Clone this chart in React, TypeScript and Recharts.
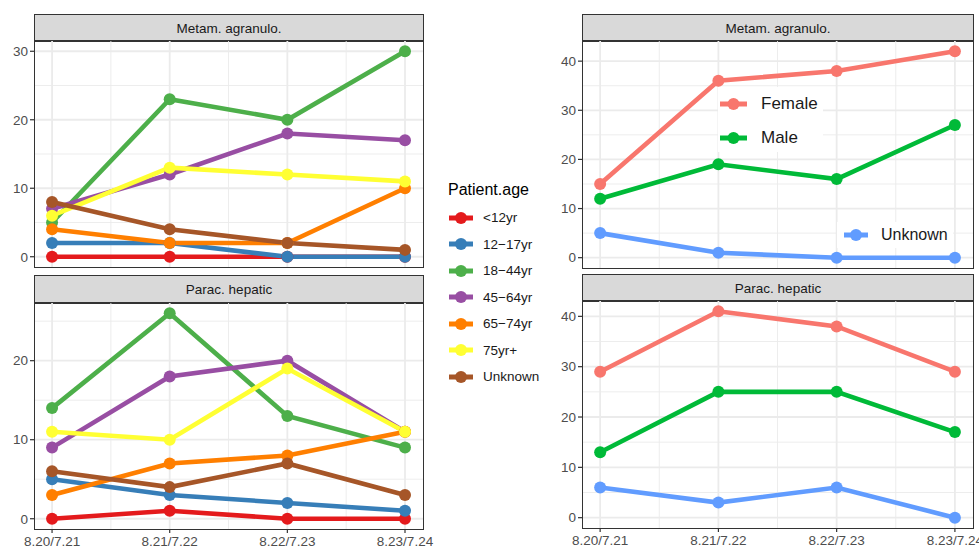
import React from 'react';
import { LineChart, Line, XAxis, YAxis, CartesianGrid } from 'recharts';

// Reporting periods shown on the shared x axis
const dates = ['8.20/7.21', '8.21/7.22', '8.22/7.23', '8.23/7.24'];

// Patient age groups and their palette
const ageGroups = ['<12yr', '12\u221217yr', '18\u221244yr', '45\u221264yr', '65\u221274yr', '75yr+', 'Unknown'];
const ageColors = ['#E41A1C', '#377EB8', '#4DAF4A', '#984EA3', '#FF7F00', '#FFFF33', '#A65628'];

// Metam. agranulo. counts by age group
const metamUnder12 = [0, 0, 0, 0];
const metam12to17 = [2, 2, 0, 0];
const metam18to44 = [5, 23, 20, 30];
const metam45to64 = [7, 12, 18, 17];
const metam65to74 = [4, 2, 2, 10];
const metam75plus = [6, 13, 12, 11];
const metamAgeUnknown = [8, 4, 2, 1];

// Parac. hepatic counts by age group
const paracUnder12 = [0, 1, 0, 0];
const parac12to17 = [5, 3, 2, 1];
const parac18to44 = [14, 26, 13, 9];
const parac45to64 = [9, 18, 20, 11];
const parac65to74 = [3, 7, 8, 11];
const parac75plus = [11, 10, 19, 11];
const paracAgeUnknown = [6, 4, 7, 3];

// Sex groups and their palette
const sexGroups = ['Female', 'Male', 'Unknown'];
const sexColors = ['#F8766D', '#00BA38', '#619CFF'];

// Counts by sex
const metamFemale = [15, 36, 38, 42];
const metamMale = [12, 19, 16, 27];
const metamSexUnknown = [5, 1, 0, 0];
const paracFemale = [29, 41, 38, 29];
const paracMale = [13, 25, 25, 17];
const paracSexUnknown = [6, 3, 6, 0];

const metamAgeSeries = [metamUnder12, metam12to17, metam18to44, metam45to64, metam65to74, metam75plus, metamAgeUnknown];
const paracAgeSeries = [paracUnder12, parac12to17, parac18to44, parac45to64, parac65to74, parac75plus, paracAgeUnknown];
const metamSexSeries = [metamFemale, metamMale, metamSexUnknown];
const paracSexSeries = [paracFemale, paracMale, paracSexUnknown];

const FONT = '"Liberation Sans", Arial, Helvetica, sans-serif';
const X_DOMAIN: [number, number] = [0.855, 4.153];
const X_TICKS = [1, 2, 3, 4];
const X_MINOR = [1.5, 2.5, 3.5];

function buildRows(series: number[][]) {
  return dates.map((d, i) => {
    const row: Record<string, number | string> = { x: i + 1, date: d };
    series.forEach((s, k) => {
      row['s' + k] = s[i];
    });
    return row;
  });
}

type PanelProps = {
  title: string;
  series: number[][];
  colors: string[];
  frameLeft: number;
  frameRight: number;
  stripTop: number;
  plotTop: number;
  plotBottom: number;
  yDomain: [number, number];
  yTicks: number[];
  yMinor: number[];
  showX: boolean;
};

function Panel(p: PanelProps) {
  const yAxisW = 35;
  const xAxisH = p.showX ? 22 : 0;
  const rightRoom = 30; // room for the last x tick label to spill past the frame
  const plotW = p.frameRight - p.frameLeft;
  const plotH = p.plotBottom - p.plotTop;
  const rows = buildRows(p.series);
  const tickStyle = { fill: '#4D4D4D', fontSize: 13.5, fontFamily: FONT };
  return (
    <>
      <div
        style={{
          position: 'absolute',
          left: p.frameLeft - 1,
          top: p.stripTop,
          width: plotW + 2,
          height: p.plotTop - p.stripTop + 1,
          boxSizing: 'border-box',
          background: '#D9D9D9',
          border: '1.5px solid #333333',
          display: 'flex',
          alignItems: 'center',
          justifyContent: 'center',
          fontSize: 13.5,
          color: '#1A1A1A',
        }}
      >
        {p.title}
      </div>
      <div style={{ position: 'absolute', left: p.frameLeft - yAxisW, top: p.plotTop }}>
        <LineChart
          width={yAxisW + plotW + rightRoom}
          height={plotH + xAxisH}
          data={rows}
          margin={{ top: 0, right: rightRoom, bottom: 0, left: 0 }}
        >
          <CartesianGrid
            horizontalValues={p.yMinor}
            verticalValues={X_MINOR}
            stroke="#EBEBEB"
            strokeWidth={0.9}
          />
          <CartesianGrid
            horizontalValues={p.yTicks}
            verticalValues={X_TICKS}
            stroke="#EBEBEB"
            strokeWidth={1.8}
          />
          <XAxis
            dataKey="x"
            type="number"
            domain={X_DOMAIN}
            ticks={X_TICKS}
            allowDataOverflow
            hide={!p.showX}
            height={xAxisH}
            tickFormatter={(v: number) => dates[v - 1]}
            axisLine={false}
            tickLine={{ stroke: '#333333', strokeWidth: 1.2 }}
            tickSize={4}
            tickMargin={3}
            tick={tickStyle}
            interval={0}
          />
          <YAxis
            type="number"
            domain={p.yDomain}
            ticks={p.yTicks}
            allowDataOverflow
            width={yAxisW}
            axisLine={false}
            tickLine={{ stroke: '#333333', strokeWidth: 1.2 }}
            tickSize={5}
            tickMargin={2}
            tick={tickStyle}
          />
          {p.series.map((_, k) => (
            <Line
              key={'line' + k}
              dataKey={'s' + k}
              stroke={p.colors[k]}
              strokeWidth={4.6}
              dot={false}
              activeDot={false}
              isAnimationActive={false}
            />
          ))}
          {p.series.map((_, k) => (
            <Line
              key={'pts' + k}
              dataKey={'s' + k}
              stroke="transparent"
              strokeWidth={0}
              dot={{ r: 6, fill: p.colors[k], stroke: p.colors[k], strokeWidth: 0 }}
              activeDot={false}
              isAnimationActive={false}
            />
          ))}
        </LineChart>
      </div>
      <div
        style={{
          position: 'absolute',
          left: p.frameLeft - 1,
          top: p.plotTop - 1,
          width: plotW + 2,
          height: plotH + 2,
          boxSizing: 'border-box',
          border: '1.5px solid #333333',
          pointerEvents: 'none',
        }}
      />
    </>
  );
}

function LegendKey({ color, width }: { color: string; width: number }) {
  return (
    <svg width={width} height={14} style={{ display: 'block' }}>
      <line x1={0} y1={7} x2={width} y2={7} stroke={color} strokeWidth={5} />
      <circle cx={width / 2} cy={7} r={6} fill={color} />
    </svg>
  );
}

function LegendRow({
  label,
  color,
  x,
  y,
  keyW,
  gap,
  fontSize,
}: {
  label: string;
  color: string;
  x: number;
  y: number;
  keyW: number;
  gap: number;
  fontSize: number;
}) {
  return (
    <div
      style={{
        position: 'absolute',
        left: x,
        top: y - 10,
        height: 20,
        display: 'flex',
        alignItems: 'center',
        whiteSpace: 'nowrap',
      }}
    >
      <LegendKey color={color} width={keyW} />
      <span style={{ marginLeft: gap, fontSize, color: '#1A1A1A' }}>{label}</span>
    </div>
  );
}

export default function App() {
  return (
    <div
      style={{
        position: 'absolute',
        left: 0,
        top: 0,
        width: 979,
        height: 548,
        background: '#FFFFFF',
        overflow: 'hidden',
        fontFamily: FONT,
      }}
    >
      <Panel
        title="Metam. agranulo."
        series={metamAgeSeries}
        colors={ageColors}
        frameLeft={35}
        frameRight={423}
        stripTop={14}
        plotTop={41}
        plotBottom={267}
        yDomain={[-1.5, 31.5]}
        yTicks={[0, 10, 20, 30]}
        yMinor={[5, 15, 25]}
        showX={false}
      />
      <Panel
        title="Parac. hepatic"
        series={paracAgeSeries}
        colors={ageColors}
        frameLeft={35}
        frameRight={423}
        stripTop={275}
        plotTop={303}
        plotBottom={529}
        yDomain={[-1.3, 27.3]}
        yTicks={[0, 10, 20]}
        yMinor={[5, 15, 25]}
        showX={true}
      />
      <Panel
        title="Metam. agranulo."
        series={metamSexSeries}
        colors={sexColors}
        frameLeft={583}
        frameRight={973}
        stripTop={14}
        plotTop={41}
        plotBottom={268}
        yDomain={[-2.1, 44.1]}
        yTicks={[0, 10, 20, 30, 40]}
        yMinor={[5, 15, 25, 35]}
        showX={false}
      />
      <Panel
        title="Parac. hepatic"
        series={paracSexSeries}
        colors={sexColors}
        frameLeft={583}
        frameRight={973}
        stripTop={274}
        plotTop={301}
        plotBottom={528}
        yDomain={[-2.05, 43.05]}
        yTicks={[0, 10, 20, 30, 40]}
        yMinor={[5, 15, 25, 35]}
        showX={true}
      />

      {/* Age group legend */}
      <div style={{ position: 'absolute', left: 448, top: 181, fontSize: 16, color: '#000000' }}>Patient.age</div>
      {ageGroups.map((g, i) => (
        <LegendRow key={g} label={g} color={ageColors[i]} x={449} y={217.7 + 26.5 * i} keyW={24} gap={10} fontSize={13.5} />
      ))}

      {/* Sex legend placed inside the top-right panel */}
      <div style={{ position: 'absolute', left: 718, top: 87, width: 105, height: 65, background: '#FFFFFF' }} />
      <LegendRow label={sexGroups[0]} color={sexColors[0]} x={720} y={103.7} keyW={27} gap={14} fontSize={17} />
      <LegendRow label={sexGroups[1]} color={sexColors[1]} x={720} y={137.7} keyW={27} gap={14} fontSize={17} />
      <div style={{ position: 'absolute', left: 837, top: 222, width: 116, height: 26, background: '#FFFFFF' }} />
      <LegendRow label={sexGroups[2]} color={sexColors[2]} x={844} y={235} keyW={24} gap={13} fontSize={16} />
    </div>
  );
}
